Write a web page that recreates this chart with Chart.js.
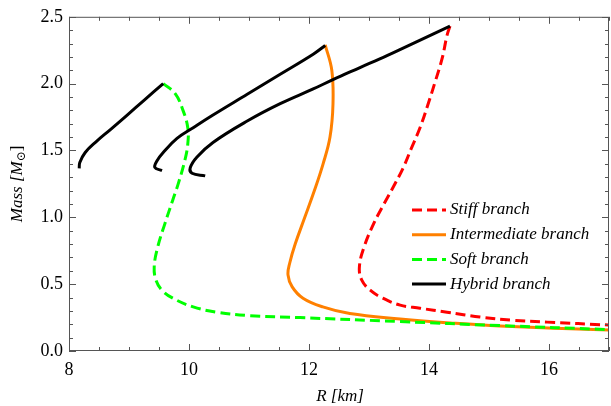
<!DOCTYPE html>
<html>
<head>
<meta charset="utf-8">
<script src="https://cdn.jsdelivr.net/npm/chart.js@4.4.0/dist/chart.umd.min.js"></script>
<style>
  body { margin: 0; background: #fff; }
  #wrap { width: 611px; height: 406px; }
</style>
</head>
<body>
<div id="wrap"><canvas id="mrChart" width="611" height="406"></canvas></div>
<script>
// tick labels
const radiusTicks = [8, 10, 12, 14, 16];
const massTicks = [0, 0.5, 1.0, 1.5, 2.0, 2.5];

// stiff branch (red dashed)
const stiffR = [14.35, 14.30, 14.22, 14.10, 13.98, 13.85, 13.70, 13.57, 13.42, 13.25, 13.08, 12.92, 12.84, 12.88, 13.02, 13.23, 13.52, 13.85, 14.30, 14.85, 15.40, 15.97, 17.0];
const stiffM = [2.43, 2.36, 2.19, 2.01, 1.84, 1.67, 1.51, 1.37, 1.24, 1.10, 0.955, 0.78, 0.63, 0.53, 0.455, 0.395, 0.343, 0.32, 0.29, 0.254, 0.23, 0.216, 0.194];

// intermediate branch (orange)
const interR = [12.27, 12.38, 12.40, 12.35, 12.235, 12.09, 11.93, 11.77, 11.68, 11.65, 11.72, 11.90, 12.23, 12.68, 13.52, 14.35, 15.18, 17.0];
const interM = [2.29, 2.10, 1.85, 1.60, 1.40, 1.20, 1.00, 0.80, 0.66, 0.57, 0.48, 0.395, 0.33, 0.28, 0.24, 0.21, 0.187, 0.157];

// soft branch (green dashed)
const softR = [9.57, 9.77, 9.90, 9.98, 9.98, 9.93, 9.82, 9.73, 9.60, 9.48, 9.42, 9.45, 9.55, 9.73, 10.07, 10.47, 11.0, 11.85, 13.52, 15.18, 17.0];
const softM = [2.0, 1.925, 1.80, 1.67, 1.55, 1.425, 1.25, 1.13, 0.955, 0.78, 0.63, 0.53, 0.455, 0.395, 0.33, 0.29, 0.265, 0.25, 0.22, 0.19, 0.16];

// hybrid branches (black), three pieces
const hybrid1R = [8.17, 8.18, 8.27, 8.45, 8.70, 8.97, 9.25, 9.57];
const hybrid1M = [1.366, 1.41, 1.485, 1.565, 1.66, 1.765, 1.875, 2.0];
const hybrid2R = [9.55, 9.43, 9.47, 9.57, 9.80, 10.07, 10.40, 10.97, 11.52, 12.07, 12.27];
const hybrid2M = [1.35, 1.373, 1.425, 1.485, 1.59, 1.67, 1.765, 1.92, 2.07, 2.22, 2.285];
const hybrid3R = [10.27, 10.05, 10.02, 10.13, 10.40, 10.97, 11.52, 12.07, 12.40, 12.85, 13.30, 13.80, 14.35];
const hybrid3M = [1.31, 1.33, 1.37, 1.45, 1.56, 1.72, 1.85, 1.96, 2.03, 2.12, 2.21, 2.315, 2.43];

function pts(rs, ms) {
  return rs.map(function (r, i) { return { x: r, y: ms[i] }; });
}

const serif = "'Liberation Serif', 'DejaVu Serif', serif";

function line(label, rs, ms, color, dash, order) {
  return {
    label: label,
    data: pts(rs, ms),
    showLine: true,
    borderColor: color,
    borderWidth: 3,
    borderDash: dash,
    pointRadius: 0,
    tension: 0.4,
    fill: false,
    order: order
  };
}

const legendItems = [
  { text: "Stiff branch", color: "#ff0000", dash: [10, 5] },
  { text: "Intermediate branch", color: "#ff8000", dash: [] },
  { text: "Soft branch", color: "#00ff00", dash: [10, 5] },
  { text: "Hybrid branch", color: "#000000", dash: [] }
];

const framePlugin = {
  id: "frame",
  afterDraw: function (chart) {
    const c = chart.ctx;
    const a = chart.chartArea;
    const xs = chart.scales.x;
    const ys = chart.scales.y;
    c.save();
    c.strokeStyle = "#555";
    c.lineWidth = 1;
    c.strokeRect(a.left + 0.5, a.top + 0.5, a.right - a.left - 1, a.bottom - a.top - 1);
    c.beginPath();
    for (let v = 8; v <= 17.001; v += 0.5) {
      const px = Math.round(xs.getPixelForValue(v)) + 0.5;
      const major = Math.abs(v / 2 - Math.round(v / 2)) < 1e-6;
      const len = major ? 7 : 4;
      c.moveTo(px, a.bottom); c.lineTo(px, a.bottom - len);
      c.moveTo(px, a.top); c.lineTo(px, a.top + len);
    }
    for (let i = 0; i <= 25; i++) {
      const v = i / 10;
      const py = Math.round(ys.getPixelForValue(v)) + 0.5;
      const len = (i % 5 === 0) ? 7 : 4;
      c.moveTo(a.left, py); c.lineTo(a.left + len, py);
      c.moveTo(a.right, py); c.lineTo(a.right - len, py);
    }
    c.stroke();

    // legend
    c.font = "italic 17px " + serif;
    c.textBaseline = "middle";
    c.textAlign = "left";
    legendItems.forEach(function (it, i) {
      const y = 210 + i * 24.7;
      c.beginPath();
      c.strokeStyle = it.color;
      c.lineWidth = 3;
      c.setLineDash(it.dash);
      c.moveTo(412, y); c.lineTo(446, y);
      c.stroke();
      c.setLineDash([]);
      c.fillStyle = "#000";
      c.fillText(it.text, 450, y);
    });

    // axis titles
    c.fillStyle = "#000";
    c.font = "italic 17px " + serif;
    c.textAlign = "center";
    c.fillText("R [km]", 340, 397);

    c.translate(18, (a.top + a.bottom) / 2);
    c.rotate(-Math.PI / 2);
    const p1 = "Mass [", p2 = "M", p3 = "⊙", p4 = "]";
    c.font = "italic 17px " + serif;
    const w1 = c.measureText(p1 + p2).width;
    c.font = "17px " + serif;
    const w4 = c.measureText(p4).width;
    c.font = "12px " + serif;
    const w3 = c.measureText(p3).width;
    let x = -(w1 + w3 + w4) / 2;
    c.textAlign = "left";
    c.font = "italic 17px " + serif;
    c.fillText(p1 + p2, x, 0);
    x += w1;
    c.font = "12px " + serif;
    c.fillText(p3, x, 4);
    x += w3;
    c.font = "17px " + serif;
    c.fillText(p4, x, 0);
    c.restore();
  }
};

new Chart(document.getElementById("mrChart").getContext("2d"), {
  type: "scatter",
  data: {
    datasets: [
      line("Hybrid branch", hybrid1R, hybrid1M, "#000000", [], 1),
      line("Hybrid branch", hybrid2R, hybrid2M, "#000000", [], 1),
      line("Hybrid branch", hybrid3R, hybrid3M, "#000000", [], 1),
      line("Soft branch", softR, softM, "#00ff00", [10, 5], 2),
      line("Intermediate branch", interR, interM, "#ff8000", [], 3),
      line("Stiff branch", stiffR, stiffM, "#ff0000", [10, 5], 4)
    ]
  },
  options: {
    responsive: false,
    animation: false,
    devicePixelRatio: 1,
    layout: { padding: { top: 16, right: 2, left: 0, bottom: 0 } },
    plugins: {
      legend: { display: false },
      tooltip: { enabled: false }
    },
    scales: {
      x: {
        type: "linear",
        min: 8,
        max: 17,
        grid: { display: false, drawTicks: false },
        border: { display: false },
        afterBuildTicks: function (s) { s.ticks = radiusTicks.map(function (v) { return { value: v }; }); },
        afterFit: function (s) { s.height = 55; },
        ticks: { padding: 8, color: "#000", font: { family: serif, size: 18 } }
      },
      y: {
        type: "linear",
        min: 0,
        max: 2.5,
        grid: { display: false, drawTicks: false },
        border: { display: false },
        afterBuildTicks: function (s) { s.ticks = massTicks.map(function (v) { return { value: v }; }); },
        afterFit: function (s) { s.width = 69; },
        ticks: {
          padding: 6,
          color: "#000",
          font: { family: serif, size: 18 },
          callback: function (v) { return Number(v).toFixed(1); }
        }
      }
    }
  },
  plugins: [framePlugin]
});
</script>
</body>
</html>
